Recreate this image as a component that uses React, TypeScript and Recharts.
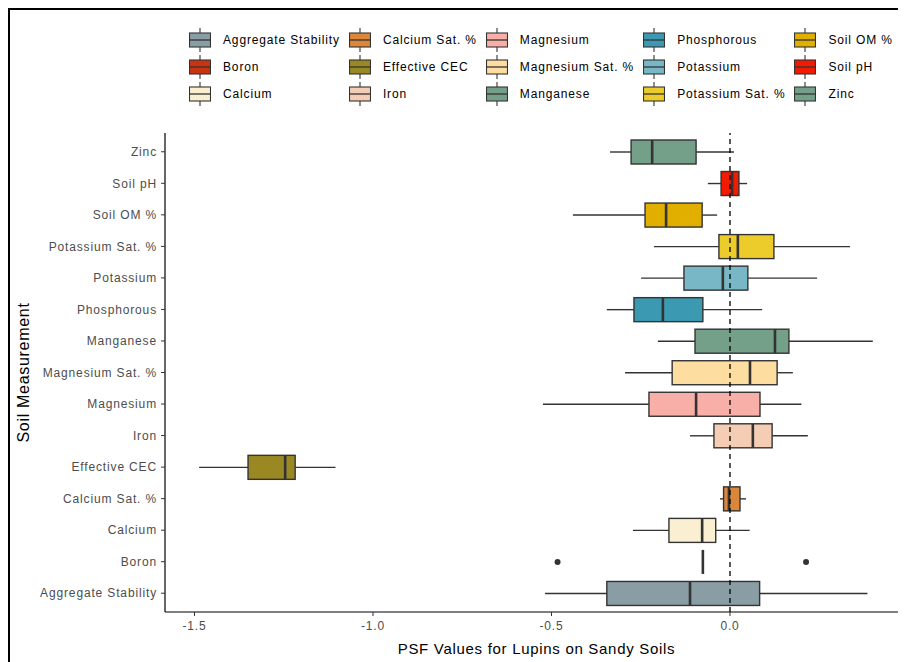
import React from "react";
import { ComposedChart, Bar, XAxis, YAxis, ReferenceLine } from "recharts";

// soil measurements (alphabetical, as in the legend)
const measures = [
  "Aggregate Stability",
  "Boron",
  "Calcium",
  "Calcium Sat. %",
  "Effective CEC",
  "Iron",
  "Magnesium",
  "Magnesium Sat. %",
  "Manganese",
  "Phosphorous",
  "Potassium",
  "Potassium Sat. %",
  "Soil OM %",
  "Soil pH",
  "Zinc",
];

// box statistics
const whiskerLow = [-0.518, -0.076, -0.272, -0.028, -1.487, -0.112, -0.524, -0.294, -0.202, -0.345, -0.249, -0.213, -0.44, -0.062, -0.336];
const q1 = [-0.345, -0.076, -0.171, -0.018, -1.35, -0.045, -0.227, -0.162, -0.098, -0.269, -0.129, -0.031, -0.238, -0.025, -0.277];
const median = [-0.112, -0.076, -0.078, -0.003, -1.246, 0.064, -0.095, 0.056, 0.126, -0.188, -0.02, 0.022, -0.179, 0.006, -0.218];
const q3 = [0.083, -0.076, -0.04, 0.028, -1.218, 0.118, 0.084, 0.132, 0.165, -0.076, 0.05, 0.123, -0.078, 0.025, -0.095];
const whiskerHigh = [0.385, -0.076, 0.055, 0.045, -1.105, 0.218, 0.2, 0.176, 0.4, 0.09, 0.244, 0.336, -0.036, 0.048, 0.011];
const outliers: number[][] = [[], [-0.483, 0.213], [], [], [], [], [], [], [], [], [], [], [], [], []];

const fills = [
  "#899DA4", "#C93312", "#FAEFD1", "#DC863B", "#9A8822",
  "#F5CDB4", "#F8AFA8", "#FDDDA0", "#74A089", "#3B9AB2",
  "#78B7C5", "#EBCC2A", "#E1AF00", "#F21A00", "#74A089",
];

const xTicks = [-1.5, -1.0, -0.5, 0.0];

const rows = measures.map((name, i) => {
  const lo = Math.min(whiskerLow[i], ...outliers[i]);
  const hi = Math.max(whiskerHigh[i], ...outliers[i]);
  return {
    name,
    span: [lo, hi],
    lo,
    hi,
    wl: whiskerLow[i],
    q1: q1[i],
    med: median[i],
    q3: q3[i],
    wh: whiskerHigh[i],
    out: outliers[i],
    fill: fills[i],
  };
});

const FONT = "'Liberation Sans', Arial, sans-serif";
const EDGE = "#333333";

// draws one horizontal boxplot inside the bar's [lo, hi] extent
function BoxShape(props: any) {
  const { x, y, width, height, payload } = props;
  if (!payload) return null;
  const { lo, hi } = payload;
  const px = (v: number) => x + ((v - lo) / (hi - lo)) * width;
  const cy = y + height / 2;
  const b1 = px(payload.q1);
  const b3 = px(payload.q3);
  return (
    <g>
      <line x1={px(payload.wl)} x2={b1} y1={cy} y2={cy} stroke={EDGE} strokeWidth={1.4} />
      <line x1={b3} x2={px(payload.wh)} y1={cy} y2={cy} stroke={EDGE} strokeWidth={1.4} />
      {b3 - b1 > 0.5 && (
        <rect x={b1} y={y} width={b3 - b1} height={height} fill={payload.fill} stroke={EDGE} strokeWidth={1.4} />
      )}
      <line x1={px(payload.med)} x2={px(payload.med)} y1={y} y2={y + height} stroke={EDGE} strokeWidth={2.6} />
      {payload.out.map((o: number, k: number) => (
        <circle key={k} cx={px(o)} cy={cy} r={3} fill={EDGE} />
      ))}
    </g>
  );
}

function LegendKey({ color }: { color: string }) {
  return (
    <svg width={22} height={24} style={{ display: "block" }}>
      <line x1={11} x2={11} y1={0} y2={24} stroke={EDGE} strokeWidth={1.1} />
      <rect x={0.5} y={5} width={21} height={14} fill={color} stroke={EDGE} strokeWidth={1.1} />
      <line x1={0.5} x2={21.5} y1={12} y2={12} stroke={EDGE} strokeWidth={1.3} />
    </svg>
  );
}

export default function App() {
  return (
    <div
      style={{
        position: "relative",
        width: 896,
        height: 652,
        borderLeft: "2px solid #000",
        borderTop: "2px solid #000",
        overflow: "hidden",
        background: "#fff",
      }}
    >
      <div
        style={{
          position: "absolute",
          left: 179,
          top: 16,
          display: "grid",
          gridTemplateRows: "repeat(3, 27px)",
          gridAutoFlow: "column",
          columnGap: 9,
          fontFamily: FONT,
          fontSize: 12,
          letterSpacing: 0.85,
          color: "#000",
        }}
      >
        {rows.map((r) => (
          <div key={r.name} style={{ display: "flex", alignItems: "center", gap: 12 }}>
            <LegendKey color={r.fill} />
            <span>{r.name}</span>
          </div>
        ))}
      </div>
      <ComposedChart
        layout="vertical"
        width={896}
        height={652}
        data={rows}
        margin={{ top: 123, right: 0, bottom: 0, left: 0 }}
        style={{ fontFamily: FONT }}
      >
        <XAxis
          type="number"
          domain={[-1.5826, 0.493]}
          allowDataOverflow
          ticks={xTicks}
          tickFormatter={(v: number) => v.toFixed(1)}
          axisLine={{ stroke: "#000", strokeWidth: 1.2 }}
          tickLine={{ stroke: EDGE }}
          tickSize={4}
          tickMargin={5}
          tick={{ fill: "#4D4D4D", fontSize: 12, letterSpacing: 0.85 }}
          height={50}
          label={{
            content: ({ viewBox }: any) => (
              <text
                x={viewBox.x + viewBox.width / 2 + 1}
                y={viewBox.y + 42}
                textAnchor="middle"
                fontSize={15}
                letterSpacing={0.7}
                fill="#000"
              >
                PSF Values for Lupins on Sandy Soils
              </text>
            ),
          }}
        />
        <YAxis
          type="category"
          dataKey="name"
          reversed
          width={155}
          padding={{ top: 3, bottom: 3 }}
          axisLine={{ stroke: "#000", strokeWidth: 1.2 }}
          tickLine={{ stroke: EDGE }}
          tickSize={4}
          tickMargin={4}
          interval={0}
          tick={{ fill: "#4D4D4D", fontSize: 12, letterSpacing: 0.85 }}
          label={{
            content: ({ viewBox }: any) => (
              <text
                transform={`translate(13, ${viewBox.y + viewBox.height / 2}) rotate(-90)`}
                textAnchor="middle"
                dominantBaseline="central"
                fontSize={16}
                letterSpacing={0.7}
                fill="#000"
              >
                Soil Measurement
              </text>
            ),
          }}
        />
        <Bar dataKey="span" barSize={24} isAnimationActive={false} shape={(p: any) => <BoxShape {...p} />} />
        <ReferenceLine x={0} stroke="#000" strokeWidth={1.3} strokeDasharray="5 4" />
      </ComposedChart>
    </div>
  );
}
